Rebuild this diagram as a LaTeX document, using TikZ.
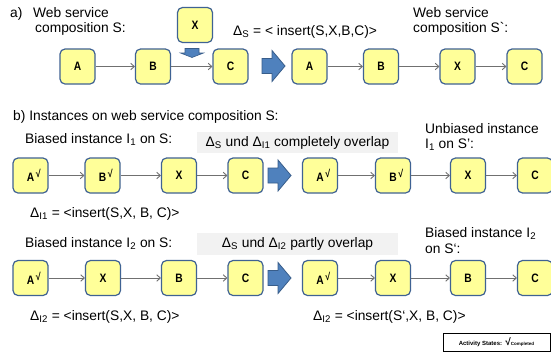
\documentclass[tikz,border=0pt]{standalone}
\usepackage{fontspec}
\setmainfont{Liberation Sans}
\newfontfamily\boxfont[FakeStretch=0.84]{Liberation Sans}
\usetikzlibrary{arrows.meta}
\definecolor{actfill}{HTML}{FFFF99}
\definecolor{actline}{HTML}{3F6293}
\definecolor{flowline}{HTML}{707070}
\definecolor{bluefill}{HTML}{4F81BD}
\definecolor{blueline}{HTML}{385D8A}
\definecolor{notefill}{HTML}{F2F2F2}
% completed mark behind an activity name
\newcommand\actdone{\rlap{\raisebox{4.2pt}{\fontsize{10.5}{10}\selectfont\,√}}}
\tikzset{
  act/.style={draw=actline,fill=actfill,line width=1.2pt,rounded corners=5pt,minimum width=35pt,minimum height=35pt,inner sep=0pt,font=\boxfont\fontsize{12.2}{12}\selectfont\bfseries},
  flow/.style={-{Straight Barb[length=3.5pt,width=6.5pt]},flowline,line width=0.9pt},
  lbl/.style={anchor=base west,inner sep=0pt,font=\fontsize{13.8}{16}\selectfont},
  note/.style={fill=notefill,minimum width=201pt,minimum height=21.5pt,inner sep=0pt,font=\fontsize{13.8}{16}\selectfont},
  bigarrow/.pic={\draw[fill=bluefill,draw=blueline,line width=0.8pt] (-11.5,-7.5)--(-1.5,-7.5)--(-1.5,-15.5)--(11.5,0)--(-1.5,15.5)--(-1.5,7.5)--(-11.5,7.5)--cycle;}
}
\begin{document}
\begin{tikzpicture}[x=1pt,y=-1pt]
\useasboundingbox[fill=white] (0,0) rectangle (551,354);
% a) schema change S -> S'
\node[lbl] (ta) at (10,17){a)};
\node[lbl] (ta1) at (33,17){Web service};
\node[lbl] (ta2) at (35,32){composition S:};
\node[act] (sa) at (77.5,66.5){A};
\node[act] (sb) at (153,66.5){B};
\node[act] (sc) at (230.5,66.5){C};
\node[act] (sx) at (195,25){X};
\draw[fill=bluefill,draw=blueline,line width=0.6pt] (185,48.5)--(199,48.5)--(199,53)--(203.5,53)--(192,57.5)--(180.5,53)--(185,53)--cycle;
\draw[flow] (sa)--(sb);\draw[flow] (sb)--(sc);
\node[lbl] (delta) at (233,35){Δ\textsubscript{S} = < insert(S,X,B,C)>};
\pic at (273.5,66) {bigarrow};
\node[lbl] (tb1) at (413,17){Web service};
\node[lbl] (tb2) at (413,32){composition S\textasciigrave:};
\node[act] (na) at (309.5,66.5){A};
\node[act] (nb) at (381,66.5){B};
\node[act] (nx) at (457.5,66.5){X};
\node[act] (nc) at (524.5,66.5){C};
\draw[flow] (na)--(nb);\draw[flow] (nb)--(nx);\draw[flow] (nx)--(nc);
% b) instances I1 and I2
\node[lbl] (tc) at (13,120){b) Instances on web service composition S:};
\node[lbl] (ti1) at (25,143){Biased instance I\textsubscript{1} on S:};
\node[note] (ov1) at (297.5,142.5){Δ\textsubscript{S} und Δ\textsubscript{I1} completely overlap};
\node[lbl] (tu1) at (425,133){Unbiased instance};
\node[lbl] (tu2) at (425,148){I\textsubscript{1} on S':};
\node[act] (pa) at (30.5,175.5){A\actdone};
\node[act] (pb) at (102.5,175.5){B\actdone};
\node[act] (px) at (179,175.5){X};
\node[act] (pc) at (245.5,175.5){C};
\draw[flow] (pa)--(pb);\draw[flow] (pb)--(px);\draw[flow] (px)--(pc);
\pic at (279.5,175.5) {bigarrow};
\node[act] (qa) at (320,175.5){A\actdone};
\node[act] (qb) at (393,175.5){B\actdone};
\node[act] (qx) at (468,175.5){X};
\node[act] (qc) at (535,175.5){C};
\draw[flow] (qa)--(qb);\draw[flow] (qb)--(qx);\draw[flow] (qx)--(qc);
\node[lbl] (d1) at (30,217){Δ\textsubscript{I1} = <insert(S,X, B, C)>};
\node[lbl] (ti2) at (25,247){Biased instance I\textsubscript{2} on S:};
\node[note] (ov2) at (297.5,244){Δ\textsubscript{S} und Δ\textsubscript{I2} partly overlap};
\node[lbl] (tv1) at (425,237){Biased instance I\textsubscript{2}};
\node[lbl] (tv2) at (425,253){on S‘:};
\node[act] (ra) at (30.5,278){A\actdone};
\node[act] (rx) at (103,278){X};
\node[act] (rb) at (179,278){B};
\node[act] (rc) at (245.5,278){C};
\draw[flow] (ra)--(rx);\draw[flow] (rx)--(rb);\draw[flow] (rb)--(rc);
\pic at (279.5,278) {bigarrow};
\node[act] (ua) at (320,278){A\actdone};
\node[act] (ux) at (393,278){X};
\node[act] (ub) at (468,278){B};
\node[act] (uc) at (535,278){C};
\draw[flow] (ua)--(ux);\draw[flow] (ux)--(ub);\draw[flow] (ub)--(uc);
\node[lbl] (d2) at (30,320){Δ\textsubscript{I2} = <insert(S,X, B, C)>};
\node[lbl] (d3) at (313,320){Δ\textsubscript{I2} = <insert(S‘,X, B, C)>};
% legend
\node[draw,fill=white,line width=0.5pt,minimum width=107pt,minimum height=18pt,inner sep=0pt] (legend) at (496.5,342){\fontsize{6}{6}\selectfont\bfseries Activity States:\ \ {\fontsize{10}{10}\selectfont √}\fontsize{4.5}{5}\selectfont Completed};
\end{tikzpicture}
\end{document}
